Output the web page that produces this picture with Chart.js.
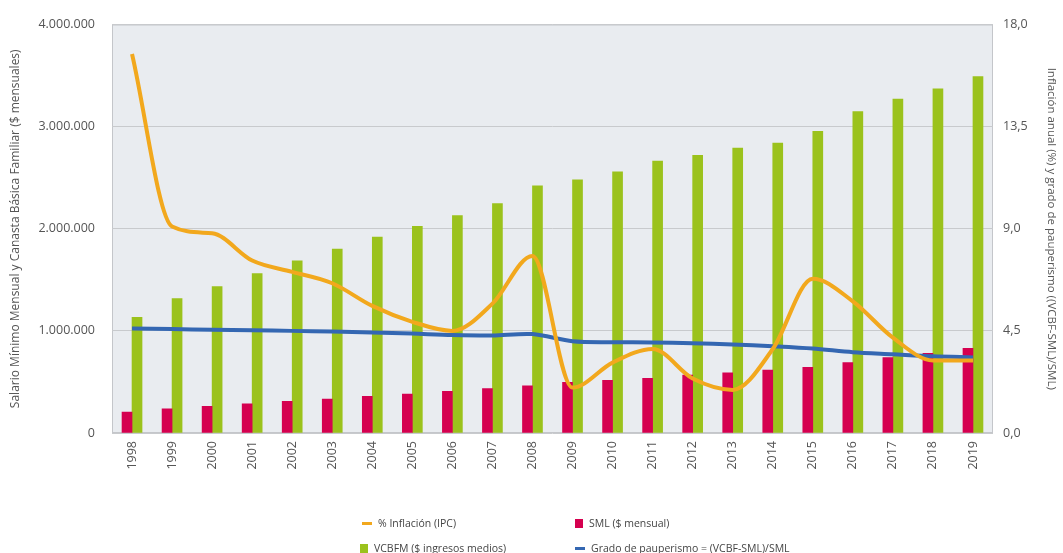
<!DOCTYPE html>
<html lang="es">
<head>
<meta charset="utf-8">
<title>Salario mínimo, canasta básica e inflación 1998-2019</title>
<script src="https://cdn.jsdelivr.net/npm/chart.js@4.4.1/dist/chart.umd.min.js"></script>
<style>
  body { margin: 0; background: #fff; }
  .wrap { position: relative; width: 1063px; height: 553px; overflow: hidden; }
  #chart { position: absolute; left: 0; top: 0; }
  .legend-item {
    position: absolute;
    display: flex;
    align-items: center;
    white-space: nowrap;
    font: 10.5px "Open Sans", sans-serif;
    color: #444;
    transform: translateY(-50%);
  }
  .legend-item .mark { display: inline-block; margin-right: 6px; }
</style>
</head>
<body>
<div class="wrap">
  <canvas id="chart" width="1063" height="553"></canvas>
  <div id="legend"></div>
</div>
<script>
// Data
const years = ["1998", "1999", "2000", "2001", "2002", "2003", "2004", "2005", "2006", "2007", "2008",
               "2009", "2010", "2011", "2012", "2013", "2014", "2015", "2016", "2017", "2018", "2019"];

// SML ($ mensual)
const sml = [204000, 236000, 260000, 286000, 309000, 332000, 358000, 381000, 408000, 434000, 461000,
             497000, 515000, 536000, 567000, 590000, 616000, 644000, 689000, 738000, 781000, 828000];

// VCBFM ($ ingresos medios)
const vcbfm = [1133000, 1317000, 1433000, 1560000, 1685000, 1800000, 1918000, 2024000, 2130000, 2247000, 2420000,
               2480000, 2557000, 2663000, 2720000, 2790000, 2838000, 2954000, 3148000, 3270000, 3370000, 3490000];

// % Inflación (IPC)
const inflacion = [16.7, 9.1, 8.8, 7.6, 7.1, 6.6, 5.6, 4.9, 4.5, 5.7, 7.8,
                   2.0, 3.1, 3.7, 2.4, 1.9, 3.7, 6.8, 5.8, 4.2, 3.2, 3.2];

// Grado de pauperismo = (VCBF-SML)/SML
const pauperismo = [4.6, 4.58, 4.55, 4.53, 4.5, 4.47, 4.43, 4.38, 4.32, 4.3, 4.36,
                    4.04, 4.0, 3.99, 3.95, 3.9, 3.82, 3.72, 3.56, 3.47, 3.38, 3.33];

const leftTicks = [0, 1000000, 2000000, 3000000, 4000000];
const rightTicks = [0, 4.5, 9, 13.5, 18];

const ORANGE = "#F2A81D";
const GREEN = "#9BC21C";
const RED = "#D5004F";
const BLUE = "#3467B2";
const PLOT_BG = "#E9ECF0";
const GRID = "#C8CACD";
const TEXT = "#555";

const tickFont = { family: "Open Sans", size: 12.5 };

function fmtMiles(v) {
  return String(Math.round(v)).replace(/\B(?=(\d{3})+(?!\d))/g, ".");
}

function fmtDecimal(v) {
  return v.toFixed(1).replace(".", ",");
}

// plot area background and frame
const plotBackground = {
  id: "plotBackground",
  beforeDraw(chart) {
    const { ctx, chartArea: a } = chart;
    ctx.save();
    ctx.fillStyle = PLOT_BG;
    ctx.fillRect(a.left, a.top, a.right - a.left, a.bottom - a.top);
    ctx.strokeStyle = "#C4C6CA";
    ctx.lineWidth = 1;
    ctx.strokeRect(a.left + 0.5, a.top + 0.5, a.right - a.left - 1, a.bottom - a.top - 1);
    ctx.restore();
  }
};

const ctx = document.getElementById("chart").getContext("2d");

const chart = new Chart(ctx, {
  type: "bar",
  data: {
    labels: years,
    datasets: [
      {
        type: "line",
        label: "% Inflación (IPC)",
        data: inflacion,
        yAxisID: "y2",
        borderColor: ORANGE,
        backgroundColor: ORANGE,
        borderWidth: 4,
        pointRadius: 0,
        cubicInterpolationMode: "monotone",
        order: 0
      },
      {
        type: "line",
        label: "Grado de pauperismo = (VCBF-SML)/SML",
        data: pauperismo,
        yAxisID: "y2",
        borderColor: BLUE,
        backgroundColor: BLUE,
        borderWidth: 4,
        pointRadius: 0,
        tension: 0.3,
        order: 1
      },
      {
        label: "SML ($ mensual)",
        data: sml,
        yAxisID: "y",
        backgroundColor: RED,
        barThickness: 10,
        order: 2
      },
      {
        label: "VCBFM ($ ingresos medios)",
        data: vcbfm,
        yAxisID: "y",
        backgroundColor: GREEN,
        barThickness: 10,
        order: 2
      }
    ]
  },
  options: {
    responsive: false,
    animation: false,
    layout: { padding: { top: 20, bottom: 80, left: 0, right: 0 } },
    plugins: {
      legend: { display: false },
      tooltip: { enabled: false }
    },
    scales: {
      x: {
        offset: true,
        grid: { display: false, drawTicks: false },
        border: { display: false },
        ticks: { minRotation: 90, maxRotation: 90, padding: 8, font: tickFont, color: TEXT },
        afterFit: (s) => { s.height = 40; }
      },
      y: {
        position: "left",
        min: 0,
        max: 4000000,
        afterBuildTicks: (s) => { s.ticks = leftTicks.map(v => ({ value: v })); },
        ticks: { padding: 17, font: tickFont, color: TEXT, callback: (v) => fmtMiles(v) },
        grid: { color: GRID, drawTicks: false },
        border: { display: false },
        title: {
          display: true,
          text: "Salario Mínimo Mensual y Canasta Básica Familiar ($ mensuales)",
          font: { family: "Open Sans", size: 12 },
          color: TEXT,
          padding: { top: 8, bottom: 0 }
        },
        afterFit: (s) => { s.width = 112; }
      },
      y2: {
        position: "right",
        min: 0,
        max: 18,
        afterBuildTicks: (s) => { s.ticks = rightTicks.map(v => ({ value: v })); },
        ticks: { padding: 10, font: tickFont, color: TEXT, callback: (v) => fmtDecimal(v) },
        grid: { display: false, drawTicks: false },
        border: { display: false },
        title: {
          display: true,
          text: "Inflación anual (%) y grado de pauperismo ((VCBF-SML)/SML)",
          font: { family: "Open Sans", size: 11.5 },
          color: TEXT,
          padding: { top: 5, bottom: 0 }
        },
        afterFit: (s) => { s.width = 70; }
      }
    }
  },
  plugins: [plotBackground]
});

// Legend (two columns, two rows)
const legendSlots = [
  { ds: 0, kind: "line", left: 362, top: 523 },
  { ds: 2, kind: "box", left: 575, top: 523 },
  { ds: 3, kind: "box", left: 360, top: 548 },
  { ds: 1, kind: "line", left: 575, top: 548 }
];

const legendBox = document.getElementById("legend");

for (let slot of legendSlots) {
  const ds = chart.data.datasets[slot.ds];
  const item = document.createElement("div");
  item.className = "legend-item";
  item.style.left = slot.left + "px";
  item.style.top = slot.top + "px";

  const mark = document.createElement("span");
  mark.className = "mark";
  if (slot.kind === "line") {
    mark.style.width = "10px";
    mark.style.height = "3px";
    mark.style.background = ds.borderColor;
  } else {
    mark.style.width = "8px";
    mark.style.height = "9px";
    mark.style.background = ds.backgroundColor;
  }

  const txt = document.createElement("span");
  txt.innerText = ds.label;

  item.append(mark, txt);
  legendBox.append(item);
}
</script>
</body>
</html>
